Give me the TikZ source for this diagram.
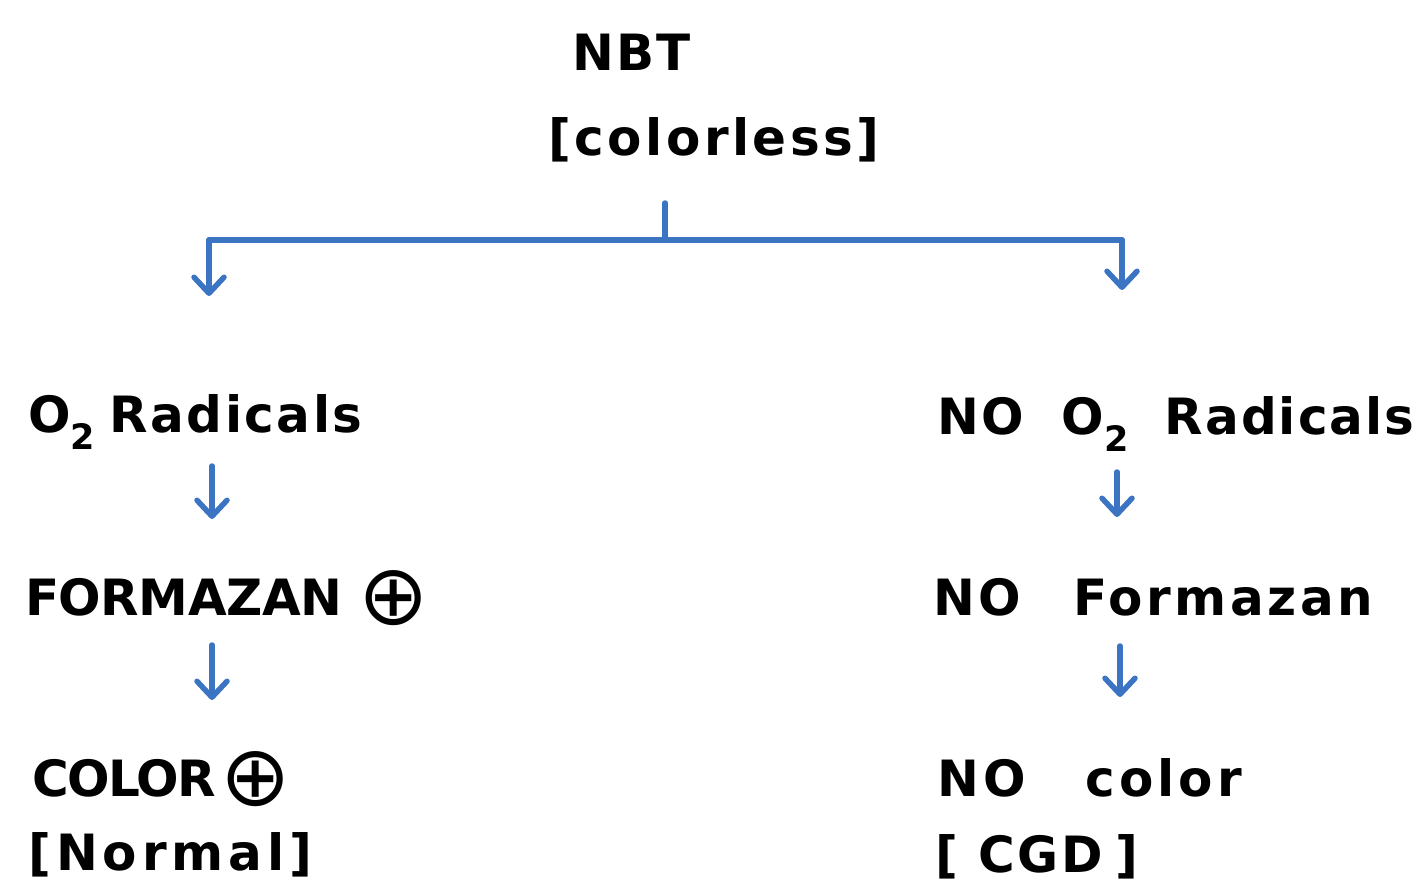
\documentclass[tikz,border=0pt]{standalone}
\usepackage{fontspec}
\setmainfont{DejaVu Sans}
\newfontfamily\symfont{DejaVu Sans}
\usetikzlibrary{arrows.meta}
\definecolor{arrblue}{HTML}{3B74C2}
\tikzset{
  txt/.style={anchor=base west,inner sep=0pt,
    font=\fontsize{50}{60}\selectfont\bfseries\addfontfeature{LetterSpace=#1}},
  txt/.default=0,
  arr/.style={draw=arrblue,line width=5.5pt,line cap=round,
    -{Straight Barb[length=16pt,width=30pt,line width=5.5pt,round]}},
  bline/.style={draw=arrblue,line width=5.5pt,line cap=round,line join=round}
}
\newcommand{\circplus}{\raisebox{-9pt}{\symfont\mdseries\fontsize{84}{84}\selectfont ⊕}}
\begin{document}
\begin{tikzpicture}[x=1pt,y=-1pt]
\useasboundingbox (0,0) rectangle (1425,886);
% top
\node[txt=4] (nbt) at (572,70) {NBT};
\node[txt=7] (cl) at (548,155) {[colorless]};
% left column
\node[txt=5] (o2l) at (28,432) {O\textsubscript{2}\hspace{14pt}Radicals};
\node[txt=-1] (forl) at (25,615) {FORMAZAN\hspace{16pt}\circplus};
\node[txt=-3] (coll) at (32,796) {COLOR\hspace{4pt}\circplus};
\node[txt=10] (norm) at (28,870) {[Normal]};
% right column
\node[txt=4] (o2r) at (937,434) {NO\hspace{38pt}O\textsubscript{2}\hspace{36pt}Radicals};
\node[txt=7] (forr) at (933,615) {NO\hspace{52pt}Formazan};
\node[txt=8] (colr) at (937,796) {NO\hspace{60pt}color};
\node[txt=6] (cgd) at (935,872) {[\hspace{20pt}CGD\hspace{12pt}]};
% branch
\coordinate (stem) at (665,203);
\coordinate (junc) at (665,240);
\coordinate (lcorner) at (209,240);
\coordinate (rcorner) at (1122,240);
\coordinate (lend) at (209,296);
\coordinate (rend) at (1122,290);
\draw[bline] (stem) -- (junc);
\draw[bline] (junc) -- (lcorner);
\draw[bline] (junc) -- (rcorner);
\draw[arr] (lcorner) -- (lend);
\draw[arr] (rcorner) -- (rend);
% left arrows
\coordinate (l1s) at (212,466);
\coordinate (l1e) at (212,519);
\coordinate (l2s) at (212,645);
\coordinate (l2e) at (212,700);
\draw[arr] (l1s) -- (l1e);
\draw[arr] (l2s) -- (l2e);
% right arrows
\coordinate (r1s) at (1117,472);
\coordinate (r1e) at (1117,517);
\coordinate (r2s) at (1120,646);
\coordinate (r2e) at (1120,697);
\draw[arr] (r1s) -- (r1e);
\draw[arr] (r2s) -- (r2e);
\end{tikzpicture}
\end{document}
